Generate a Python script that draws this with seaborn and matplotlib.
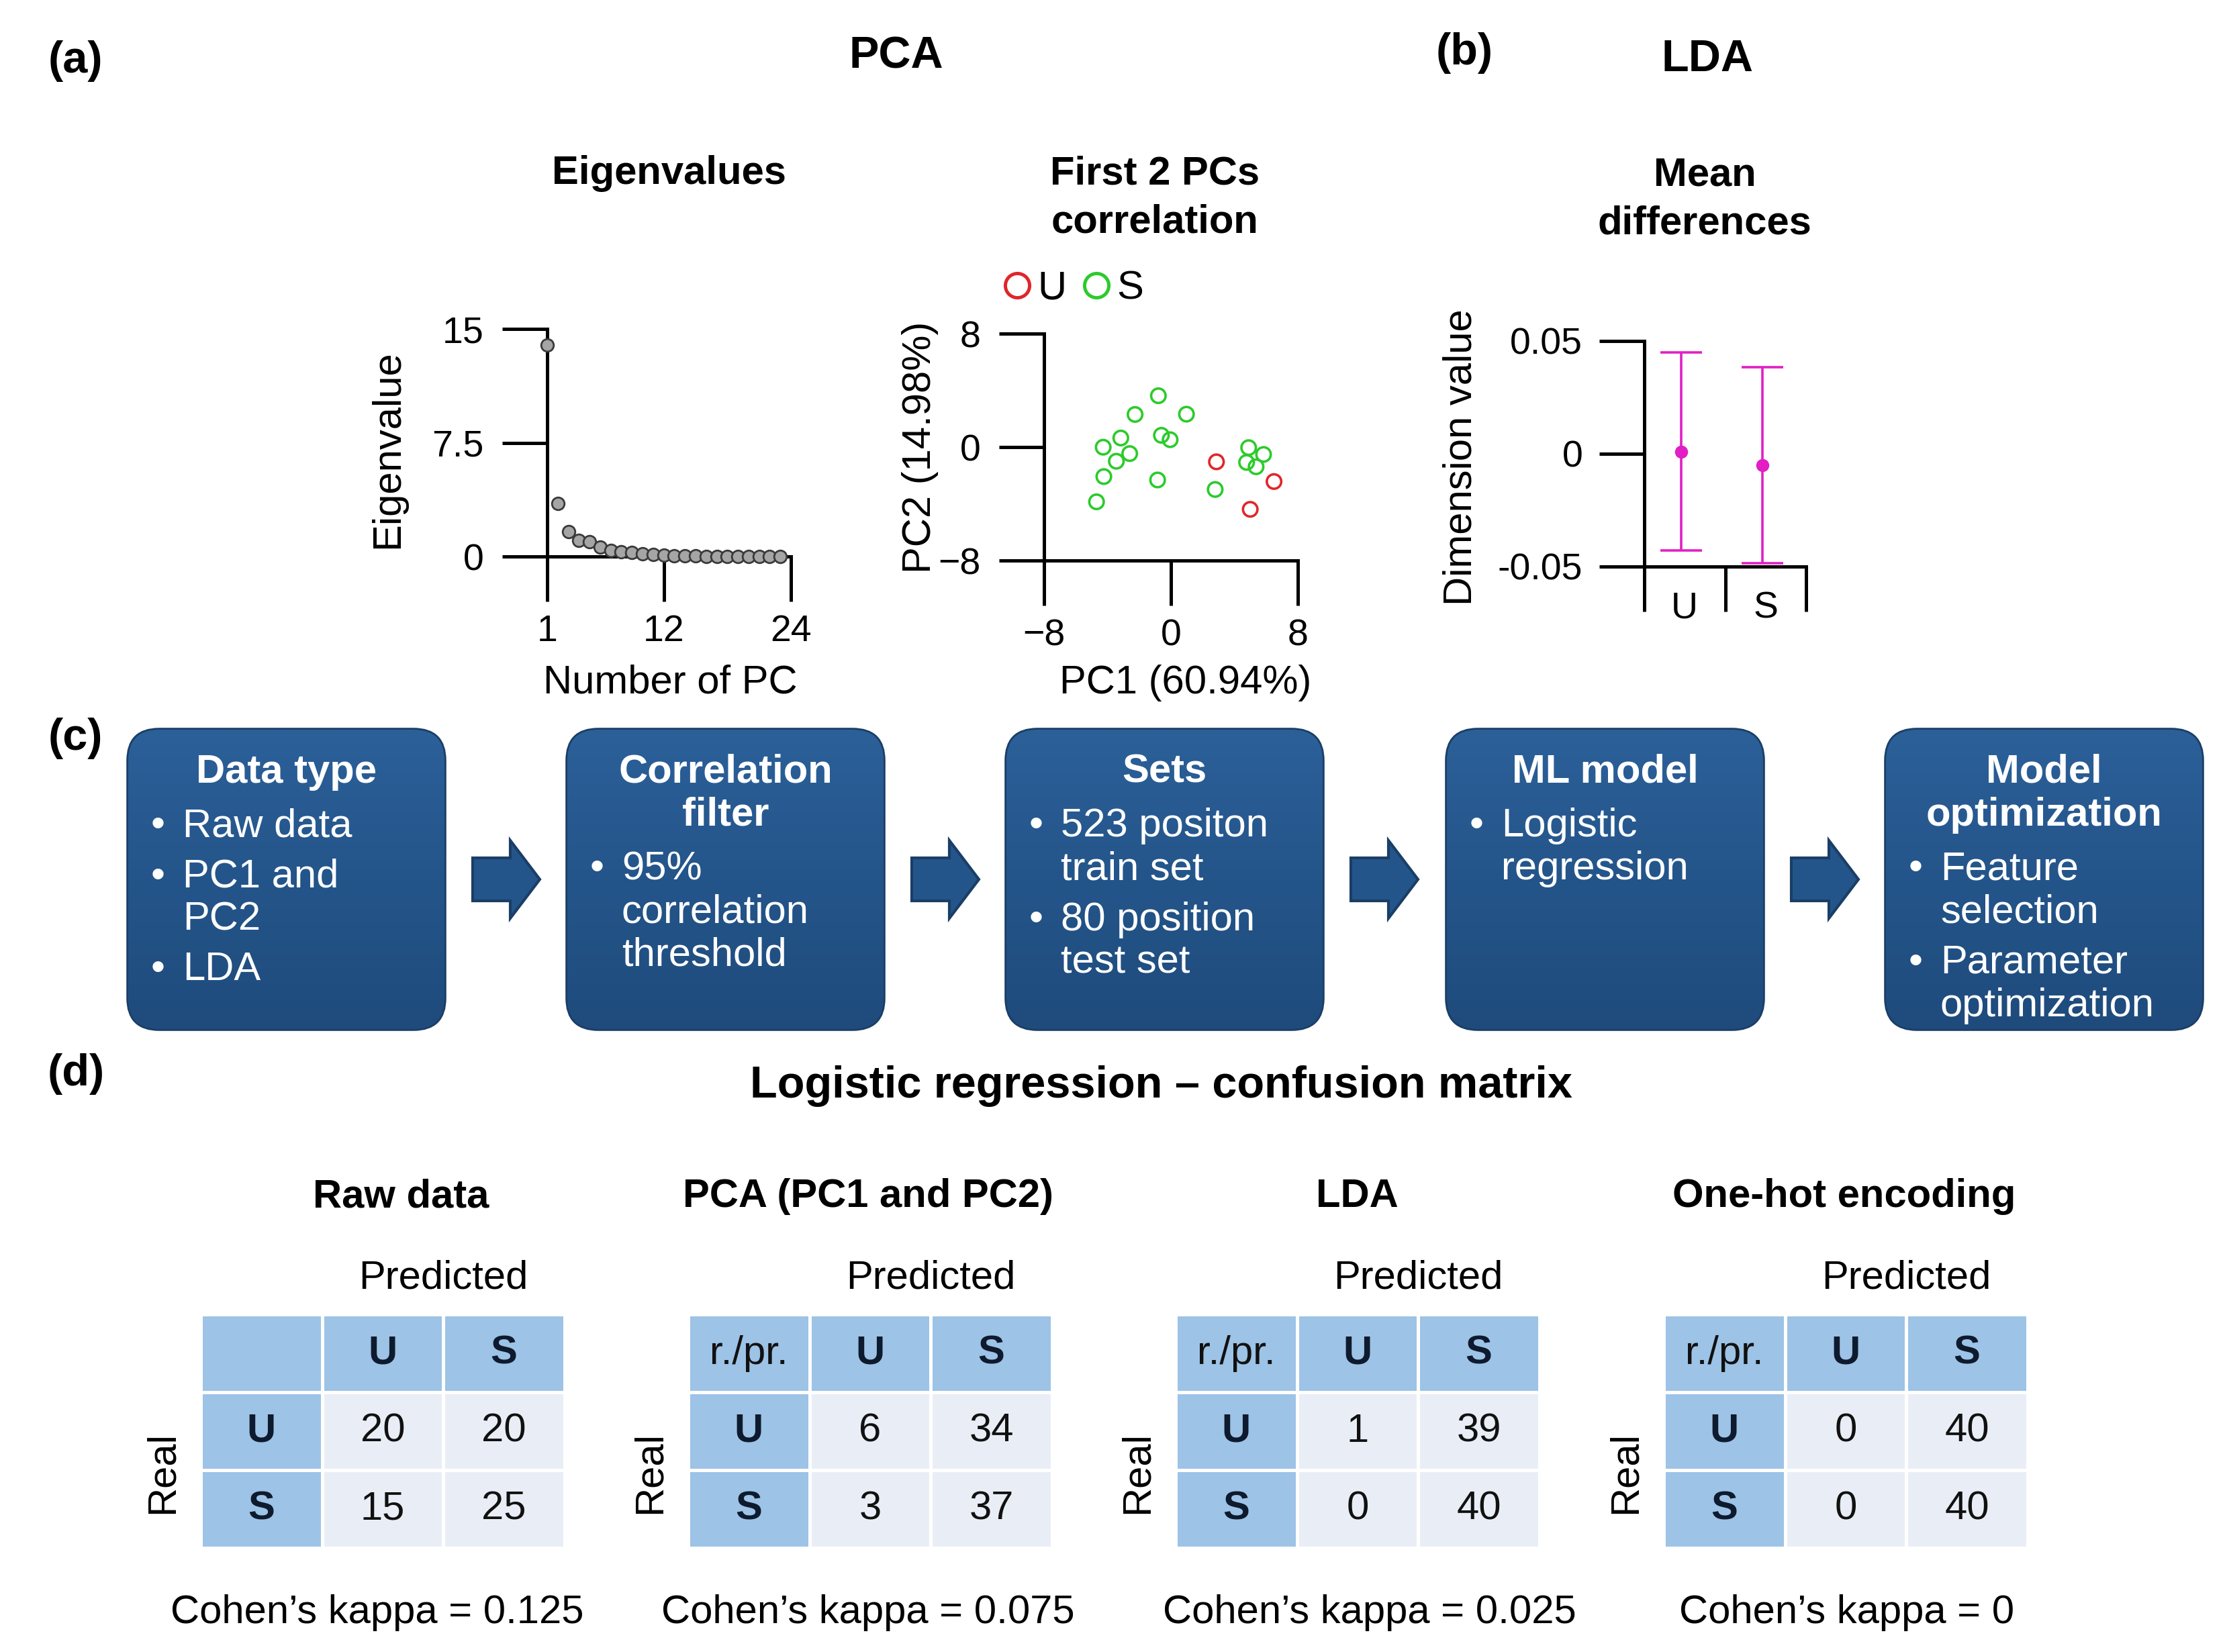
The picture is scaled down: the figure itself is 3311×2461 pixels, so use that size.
import numpy as np
import pandas as pd
import matplotlib
matplotlib.use("Agg")
import matplotlib.pyplot as plt
import seaborn as sns
from matplotlib.patches import FancyBboxPatch, FancyArrow
from matplotlib.lines import Line2D
from matplotlib.colors import ListedColormap, LinearSegmentedColormap

# ---------------- data ----------------
pc_numbers = list(range(1, 24))
eigenvalues = [13.95, 3.5, 1.65, 1.05, 0.97, 0.62, 0.42, 0.33, 0.25, 0.18, 0.12,
               0.08, 0.06, 0.04, 0.03, 0.02, 0.02, 0.01, 0.01, 0.01, 0.0, 0.0, 0.0]

pc1_values = [-0.79, -2.26, 0.98, -3.16, -0.60, -0.05, -4.27, -2.60, -3.44, -4.23,
              -0.84, -4.69, 2.79, 4.90, 5.84, 4.77, 5.37, 2.87, 6.50, 5.00]
pc2_values = [3.62, 2.30, 2.32, 0.64, 0.83, 0.52, -0.01, -0.46, -1.00, -2.08,
              -2.32, -3.86, -2.99, -0.04, -0.52, -1.08, -1.39, -1.04, -2.43, -4.39]
pc_class = ["S"] * 17 + ["U"] * 3
class_order = ["U", "S"]
pca_palette = {"U": "#E0262B", "S": "#2BCB2B"}

lda_classes = ["U", "S"]
lda_means = [0.001, -0.005]
lda_sd = [0.044, 0.0435]
lda_color = "#E21FC4"

flow_titles = [["Data type"], ["Correlation", "filter"], ["Sets"], ["ML model"],
               ["Model", "optimization"]]
flow_bullets = [
    [["Raw data"], ["PC1 and", "PC2"], ["LDA"]],
    [["95%", "correlation", "threshold"]],
    [["523 positon", "train set"], ["80 position", "test set"]],
    [["Logistic", "regression"]],
    [["Feature", "selection"], ["Parameter", "optimization"]],
]

cm_titles = ["Raw data", "PCA (PC1 and PC2)", "LDA", "One-hot encoding"]
cm_corner = ["", "r./pr.", "r./pr.", "r./pr."]
cm_values = [[[20, 20], [15, 25]],
             [[6, 34], [3, 37]],
             [[1, 39], [0, 40]],
             [[0, 40], [0, 40]]]
cm_kappa = ["0.125", "0.075", "0.025", "0"]

# ---------------- style ----------------
sns.set_theme(style="ticks")
plt.rcParams["font.family"] = ["Liberation Sans", "DejaVu Sans"]
plt.rcParams.update({
    "axes.linewidth": 1.8, "xtick.major.width": 1.8, "ytick.major.width": 1.8,
    "xtick.major.size": 24, "ytick.major.size": 24,
    "xtick.labelsize": 20, "ytick.labelsize": 20, "axes.labelsize": 21.5,
    "text.color": "black", "axes.labelcolor": "black", "axes.edgecolor": "black",
    "xtick.color": "black", "ytick.color": "black",
})

W, H, DPI = 3312, 2461, 200
fig = plt.figure(figsize=(W / DPI, H / DPI), dpi=DPI, facecolor="white")


def add_ax(l, t, r, b):
    return fig.add_axes([l / W, 1 - b / H, (r - l) / W, (b - t) / H])


ov = fig.add_axes([0, 0, 1, 1])
ov.set_xlim(0, W)
ov.set_ylim(H, 0)
ov.set_axis_off()
ov.patch.set_alpha(0)


def txt(x, y, s, **kw):
    kw.setdefault("ha", "center")
    kw.setdefault("va", "center")
    kw.setdefault("fontsize", 21.5)
    ov.text(x, y, s, **kw)


def place_labels(ax, box, xl=None, yl=None):
    l, t, r, b = box
    if xl is not None:
        ax.xaxis.set_label_coords((xl[0] - l) / (r - l), (b - xl[1]) / (b - t))
        ax.xaxis.label.set_va("center")
    if yl is not None:
        ax.yaxis.set_label_coords((yl[0] - l) / (r - l), (b - yl[1]) / (b - t))
        ax.yaxis.label.set_va("center")
        ax.yaxis.label.set_ha("center")


# ---------------- headings ----------------
txt(112, 91, "(a)", fontweight="bold", fontsize=24)
txt(1335, 84, "PCA", fontweight="bold", fontsize=24)
txt(2181, 79, "(b)", fontweight="bold", fontsize=24)
txt(2543, 89, "LDA", fontweight="bold", fontsize=24)
txt(997, 259, "Eigenvalues", fontweight="bold")
txt(1720, 259, "First 2 PCs", fontweight="bold")
txt(1720, 331, "correlation", fontweight="bold")
txt(2539, 261, "Mean", fontweight="bold")
txt(2539, 333, "differences", fontweight="bold")

# ---------------- eigenvalues ----------------
b1 = (815, 490, 1178, 829)
ax1 = add_ax(*b1)
df_eig = pd.DataFrame({"pc": pc_numbers, "eig": eigenvalues})
sns.scatterplot(data=df_eig, x="pc", y="eig", ax=ax1, color="#A5A5A5",
                edgecolor="#3A3A3A", linewidth=1.0, s=45, clip_on=False,
                zorder=3, legend=False)
ax1.set(xlim=(1, 24), ylim=(0, 15), xticks=[1, 12, 24], yticks=[0, 7.5, 15])
ax1.set_yticklabels(["0", "7.5", "15"])
sns.despine(ax=ax1)
ax1.tick_params(axis="y", pad=10)
ax1.tick_params(axis="x", pad=7)
ax1.set_xlabel("Number of PC")
ax1.set_ylabel("Eigenvalue")
place_labels(ax1, b1, xl=(998, 1017), yl=(578, 669))

# ---------------- PCA scatter ----------------
b2 = (1555, 497, 1933, 835)
ax2 = add_ax(*b2)
df_pca = pd.DataFrame({"pc1": pc1_values, "pc2": pc2_values, "cls": pc_class})
sns.scatterplot(data=df_pca, x="pc1", y="pc2", hue="cls", hue_order=class_order,
                palette=pca_palette, s=60, linewidth=1.3, ax=ax2, legend=False,
                clip_on=False)
coll = ax2.collections[0]
fcs = coll.get_facecolors()
coll.set_edgecolors(fcs)
coll.set_facecolors("none")
ax2.set(xlim=(-8, 8), ylim=(-8, 8), xticks=[-8, 0, 8], yticks=[-8, 0, 8])
sns.despine(ax=ax2)
ax2.tick_params(axis="y", pad=10)
ax2.tick_params(axis="x", pad=7)
ax2.set_xlabel("PC1 (60.94%)")
ax2.set_ylabel("PC2 (14.98%)")
place_labels(ax2, b2, xl=(1766, 1017), yl=(1371, 666))

handles = [Line2D([0], [0], marker="o", ls="none", mfc="none",
                  mec=pca_palette[c], ms=13, mew=1.8) for c in class_order]
fig.legend(handles, class_order, loc="center", bbox_to_anchor=(1594 / W, 1 - 430 / H),
           ncol=2, frameon=False, handletextpad=0.0, columnspacing=0.25,
           handlelength=1.0, fontsize=21.5, borderpad=0, borderaxespad=0)

# ---------------- LDA ----------------
b3 = (2449, 508, 2690, 844)
ax3 = add_ax(*b3)
xpos = [i + 0.46 for i in range(len(lda_classes))]
ax3.errorbar(xpos, lda_means, yerr=lda_sd, fmt="o", color=lda_color, ms=6,
             capsize=11, elinewidth=1.3, capthick=1.3, clip_on=False, zorder=3)
ax3.set(xlim=(0, 2), ylim=(-0.05, 0.05), yticks=[-0.05, 0, 0.05])
ax3.set_yticklabels(["-0.05", "0", "0.05"])
ax3.set_xticks([0, 1, 2])
ax3.set_xticklabels(["", "", ""])
ax3.set_xticks([0.5, 1.5], minor=True)
ax3.set_xticklabels(lda_classes, minor=True)
ax3.tick_params(axis="x", which="minor", length=0, pad=13, labelsize=20)
ax3.tick_params(axis="y", pad=9)
sns.despine(ax=ax3)
ax3.set_ylabel("Dimension value")
place_labels(ax3, b3, yl=(2176, 681))

# ---------------- flow chart ----------------
txt(112, 1100, "(c)", fontweight="bold", fontsize=24)
box_lefts = [191, 845, 1499, 2155, 2809]
box_w, box_top, box_h = 471, 1087, 446
box_fc, box_ec = "#24558A", "#1A3E66"
grad_cmap = LinearSegmentedColormap.from_list("boxgrad", ["#2C6099", "#24558A", "#1F4B7C"])
grad = np.linspace(0, 1, 256).reshape(-1, 1)
for i, x0 in enumerate(box_lefts):
    patch = FancyBboxPatch((x0, box_top), box_w, box_h,
                           boxstyle="round,pad=0,rounding_size=46",
                           fc=box_fc, ec=box_ec, lw=2)
    ov.add_patch(patch)
    im = ov.imshow(grad, cmap=grad_cmap, aspect="auto",
                   extent=(x0, x0 + box_w, box_top + box_h, box_top), zorder=1.5)
    im.set_clip_path(patch)
    y = 1150
    for j, line in enumerate(flow_titles[i]):
        if j > 0:
            y += 64
        txt(x0 + box_w / 2, y, line, color="white", fontweight="bold", zorder=3)
    y += 81
    for k, bullet in enumerate(flow_bullets[i]):
        if k > 0:
            y += 75
        for j, line in enumerate(bullet):
            if j > 0:
                y += 64
            if j == 0:
                txt(x0 + 44, y, "•", color="white", zorder=3)
            txt(x0 + 81, y, line, color="white", ha="left", zorder=3)
    if i < len(box_lefts) - 1:
        ov.add_patch(FancyArrow(x0 + box_w + 42, 1310, 100, 0, width=64,
                                head_width=116, head_length=44,
                                length_includes_head=True, fc=box_fc, ec=box_ec, lw=1.5))
ov.set_xlim(0, W)
ov.set_ylim(H, 0)

# ---------------- confusion matrices ----------------
txt(113, 1600, "(d)", fontweight="bold", fontsize=24)
txt(1729, 1618, "Logistic regression – confusion matrix", fontweight="bold", fontsize=24)

table_lefts = [299, 1025, 1751, 2478]
title_x = [597, 1293, 2021, 2747]
kappa_x = [562, 1293, 2040, 2751]
t_top, t_w, t_h = 1958, 542, 348
kinds = np.array([[1, 1, 1], [1, 0, 0], [1, 0, 0]])
cmap = ListedColormap(["#E9EEF6", "#9DC3E6"])
for i, l in enumerate(table_lefts):
    ax = add_ax(l, t_top, l + t_w, t_top + t_h)
    v = cm_values[i]
    annot = np.array([[cm_corner[i], class_order[0], class_order[1]],
                      [class_order[0], str(v[0][0]), str(v[0][1])],
                      [class_order[1], str(v[1][0]), str(v[1][1])]], dtype=object)
    sns.heatmap(kinds, ax=ax, cmap=cmap, vmin=0, vmax=1, cbar=False,
                linewidths=1.2, linecolor="white", annot=annot, fmt="",
                annot_kws={"fontsize": 21.5, "color": "#111111"},
                xticklabels=False, yticklabels=False)
    for t in ax.texts:
        if t.get_text() in class_order:
            t.set_fontweight("bold")
            t.set_color("#0E1A2E")
    ax.set_xlabel("")
    ax.set_ylabel("")
    txt(title_x[i], 1783, cm_titles[i], fontweight="bold")
    txt(l + 361, 1904, "Predicted")
    txt(l - 57, 2194, "Real", rotation=90)
    txt(kappa_x[i], 2402, "Cohen’s kappa = " + cm_kappa[i])

fig.savefig("out.png", dpi=DPI, facecolor="white")
